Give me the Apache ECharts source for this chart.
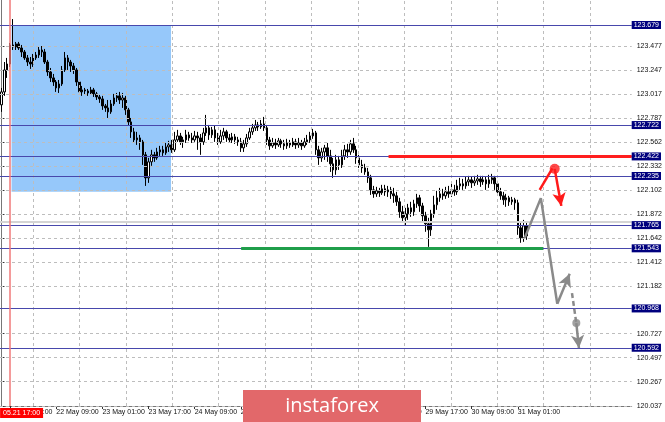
<!DOCTYPE html>
<html><head><meta charset="utf-8">
<script src="https://cdn.jsdelivr.net/npm/echarts@6/dist/echarts.min.js"></script>
<style>html,body{margin:0;padding:0;background:#fff}#c{width:665px;height:422px}</style>
</head><body><div id="c"></div>
<script>
// ---- data (hourly candles: [open, close, low, high]) ----
const ohlc = [
[122.915,123.039,122.848,123.077],[123.039,123.249,123.001,123.325],[123.249,123.306,123.173,123.364],[123.306,123.488,123.278,123.507],
[123.488,123.469,123.440,123.736],[123.469,123.498,123.440,123.517],[123.498,123.459,123.440,123.517],[123.459,123.421,123.373,123.488],
[123.421,123.364,123.345,123.440],[123.364,123.325,123.287,123.392],[123.325,123.306,123.259,123.373],[123.306,123.364,123.278,123.402],
[123.364,123.392,123.345,123.421],[123.392,123.440,123.364,123.469],[123.440,123.421,123.373,123.478],[123.421,123.325,123.306,123.450],
[123.325,123.230,123.192,123.345],[123.230,123.173,123.134,123.268],[123.173,123.134,123.096,123.211],[123.134,123.077,123.039,123.153],
[123.077,123.115,123.029,123.153],[123.115,123.249,123.096,123.287],[123.249,123.364,123.230,123.421],[123.364,123.325,123.249,123.392],
[123.325,123.287,123.230,123.345],[123.287,123.249,123.211,123.316],[123.249,123.134,123.096,123.268],[123.134,123.039,123.010,123.153],
[123.039,123.058,123.001,123.096],[123.058,123.048,123.010,123.077],[123.048,123.029,123.001,123.067],[123.029,123.058,123.010,123.087],
[123.058,123.020,122.991,123.077],[123.020,122.991,122.962,123.039],[122.991,122.972,122.934,123.010],[122.972,122.905,122.867,123.001],
[122.905,122.886,122.848,122.924],[122.886,122.848,122.790,122.962],[122.848,122.924,122.829,122.962],[122.924,122.981,122.905,123.020],
[122.981,123.001,122.943,123.029],[123.001,122.962,122.924,123.039],[122.962,122.981,122.886,123.029],[122.981,122.867,122.819,123.001],
[122.867,122.752,122.714,122.886],[122.752,122.657,122.599,122.790],[122.657,122.580,122.551,122.695],[122.580,122.599,122.532,122.657],
[122.599,122.561,122.485,122.628],[122.561,122.437,122.341,122.580],[122.437,122.217,122.140,122.465],[122.217,122.370,122.169,122.408],
[122.370,122.437,122.332,122.485],[122.437,122.408,122.370,122.465],[122.408,122.465,122.389,122.504],[122.465,122.485,122.427,122.523],
[122.485,122.456,122.427,122.523],[122.456,122.513,122.437,122.551],[122.513,122.532,122.465,122.571],[122.532,122.485,122.456,122.580],
[122.485,122.580,122.465,122.657],[122.580,122.618,122.561,122.676],[122.618,122.561,122.532,122.647],[122.561,122.580,122.504,122.609],
[122.580,122.628,122.551,122.676],[122.628,122.599,122.571,122.657],[122.599,122.580,122.551,122.647],[122.580,122.618,122.561,122.666],
[122.618,122.599,122.485,122.657],[122.599,122.561,122.437,122.637],[122.561,122.647,122.532,122.695],[122.647,122.695,122.618,122.819],
[122.695,122.628,122.580,122.723],[122.628,122.676,122.599,122.704],[122.676,122.599,122.561,122.714],[122.599,122.561,122.532,122.647],
[122.561,122.618,122.542,122.676],[122.618,122.657,122.580,122.695],[122.657,122.599,122.561,122.676],[122.599,122.580,122.551,122.637],
[122.580,122.609,122.551,122.647],[122.609,122.580,122.542,122.637],[122.580,122.561,122.523,122.609],[122.561,122.504,122.465,122.599],
[122.504,122.542,122.465,122.580],[122.542,122.599,122.513,122.637],[122.599,122.657,122.580,122.695],[122.657,122.695,122.628,122.733],
[122.695,122.723,122.666,122.771],[122.723,122.704,122.666,122.752],[122.704,122.733,122.685,122.771],[122.733,122.695,122.666,122.800],
[122.695,122.580,122.532,122.723],[122.580,122.523,122.485,122.609],[122.523,122.551,122.504,122.599],[122.551,122.532,122.494,122.590],
[122.532,122.571,122.513,122.599],[122.571,122.542,122.504,122.590],[122.542,122.523,122.485,122.580],[122.523,122.551,122.494,122.590],
[122.551,122.532,122.504,122.580],[122.532,122.561,122.513,122.599],[122.561,122.532,122.494,122.590],[122.532,122.551,122.504,122.599],
[122.551,122.523,122.485,122.580],[122.523,122.561,122.504,122.599],[122.561,122.580,122.532,122.628],[122.580,122.618,122.551,122.657],
[122.618,122.647,122.590,122.685],[122.647,122.485,122.437,122.666],[122.485,122.408,122.341,122.523],[122.408,122.465,122.370,122.504],
[122.465,122.504,122.389,122.532],[122.504,122.427,122.370,122.551],[122.427,122.351,122.274,122.485],[122.351,122.293,122.217,122.408],
[122.293,122.389,122.246,122.437],[122.389,122.341,122.293,122.427],[122.341,122.427,122.312,122.485],[122.427,122.485,122.389,122.532],
[122.485,122.465,122.408,122.542],[122.465,122.542,122.437,122.580],[122.542,122.485,122.456,122.599],[122.485,122.408,122.351,122.523],
[122.408,122.341,122.312,122.437],[122.341,122.312,122.265,122.389],[122.312,122.274,122.246,122.351],[122.274,122.217,122.169,122.312],
[122.217,122.102,122.054,122.246],[122.102,122.064,122.026,122.140],[122.064,122.093,122.035,122.131],[122.093,122.074,122.035,122.121],
[122.074,122.112,122.054,122.150],[122.112,122.083,122.045,122.150],[122.083,122.102,122.035,122.140],[122.102,122.064,122.016,122.131],
[122.064,122.045,121.978,122.121],[122.045,121.988,121.949,122.083],[121.988,121.892,121.835,122.026],[121.892,121.835,121.787,121.949],
[121.835,121.873,121.758,121.930],[121.873,121.930,121.815,121.968],[121.930,121.892,121.844,121.988],[121.892,121.968,121.854,122.007],
[121.968,122.026,121.930,122.064],[122.026,121.949,121.892,122.054],[121.949,121.854,121.796,121.978],[121.854,121.777,121.701,121.892],
[121.777,121.720,121.557,121.835],[121.720,121.873,121.662,121.911],[121.873,121.959,121.835,122.045],[121.959,122.026,121.911,122.093],
[122.026,122.064,121.988,122.121],[122.064,122.045,122.007,122.112],[122.045,122.083,122.016,122.131],[122.083,122.064,122.026,122.140],
[122.064,122.102,122.035,122.160],[122.102,122.083,122.045,122.150],[122.083,122.140,122.054,122.198],[122.140,122.160,122.102,122.217],
[122.160,122.140,122.102,122.207],[122.140,122.179,122.112,122.226],[122.179,122.198,122.140,122.236],[122.198,122.169,122.121,122.226],
[122.169,122.188,122.140,122.236],[122.188,122.207,122.150,122.246],[122.207,122.179,122.131,122.236],[122.179,122.198,122.150,122.236],
[122.198,122.160,122.102,122.226],[122.160,122.198,122.121,122.246],[122.198,122.217,122.160,122.255],[122.217,122.160,122.102,122.236],
[122.160,122.083,122.045,122.188],[122.083,122.045,122.007,122.121],[122.045,122.007,121.959,122.083],[122.007,122.026,121.940,122.064],
[122.026,121.988,121.949,122.045],[121.988,122.007,121.959,122.035],[122.007,121.978,121.911,122.026],[121.978,121.739,121.672,122.007],
[121.739,121.643,121.596,121.796],[121.643,121.758,121.605,121.815],[121.758,121.662,121.624,121.796]
];
const totalBars = 219;                       // hourly slots across the plot (incl. empty future)
const xTickLabels = ['21 May 17:00','22 May 09:00','23 May 01:00','23 May 17:00','24 May 09:00',
  '27 May 01:00','27 May 17:00','28 May 09:00','29 May 01:00','29 May 17:00','30 May 09:00','31 May 01:00'];
const yTickLabels = [123.477,123.247,123.017,122.787,122.562,122.332,122.102,121.872,121.642,121.412,121.182,120.727,120.497,120.267,120.037];
const levels = [123.679,122.722,122.422,122.235,121.765,121.543,120.968,120.592];
const resistanceLevel = 122.422, resistanceFromBar = 134.2;
const supportLevel = 121.543, supportBars = [83.1, 187.8];
const bidPrice = 121.796;
const zoneBars = [3.5, 58.8], zonePrices = [123.679, 122.084];
const markerBar = 3, markerText = '05.21 17:00';
const greyPath = [[181.4,121.641],[187.0,122.023],[192.7,121.013]];
const greyArrow = [[192.7,121.013],[197.0,121.299]];
const greyDash = [[197.8,121.115],[199.3,120.828]];
const greyDot = [199.3,120.828];
const greyDashArrow = [[199.3,120.828],[200.2,120.589]];
const redPath = [[186.6,122.102],[191.0,122.308]];
const redDot = [191.8,122.303];
const redArrow = [[191.8,122.303],[194.1,121.949]];

// ---- layout helpers ----
const FONT = 'Liberation Sans';
const firstLabelBar = 3, barsPerLabel = 16;
const labelAt = {};
xTickLabels.forEach((t, k) => { labelAt[firstLabelBar + barsPerLabel * k] = t; });
const cats = Array.from({length: totalBars}, (_, i) => String(i));
const vGrid = Array.from({length: 13}, (_, k) => 10.9 + 16.1 * k);
const seg = (a, b) => [{coord: a}, {coord: b}];
const gridStyle = {color: '#bdbdbd', width: 1, type: [3, 3], opacity: 1};

const chart = echarts.init(document.getElementById('c'), null, {renderer: 'canvas'});
chart.setOption({
  animation: false,
  backgroundColor: '#ffffff',
  grid: {left: 0, right: 31, top: 0, bottom: 16, containLabel: false},
  xAxis: [
    {type: 'category', data: cats, boundaryGap: true, position: 'bottom',
     axisLine: {show: true, lineStyle: {color: '#777', width: 1}},
     axisTick: {show: true, alignWithLabel: true, length: 3, interval: (i) => labelAt[i] !== undefined, lineStyle: {color: '#333'}},
     axisLabel: {show: true, interval: (i) => labelAt[i] !== undefined, formatter: (v, i) => labelAt[i] || '',
       align: 'left', margin: 3, fontSize: 7, color: '#111', fontFamily: FONT},
     splitLine: {show: false}},
    {type: 'value', min: -0.5, max: totalBars - 0.5, show: false}
  ],
  yAxis: {type: 'value', position: 'right', min: 120.035, max: 123.918, scale: true,
    axisLine: {show: true, lineStyle: {color: '#777', width: 1}},
    axisTick: {show: true, length: 3, customValues: yTickLabels, lineStyle: {color: '#333'}},
    axisLabel: {show: true, customValues: yTickLabels, formatter: (v) => v.toFixed(3), fontSize: 7, color: '#111', margin: 5, fontFamily: FONT},
    splitLine: {show: false}},
  graphic: [
    {type: 'rect', z: 100, shape: {x: 243, y: 390, width: 178, height: 32}, style: {fill: '#e2686a'}},
    {type: 'text', z: 101, style: {text: 'instaforex', x: 332, y: 406, fill: '#ffffff', fontSize: 20, fontFamily: 'Open Sans', align: 'center', verticalAlign: 'middle'}}
  ],
  series: [
    {type: 'line', xAxisIndex: 1, data: [[0, 122]], symbol: 'none', lineStyle: {width: 0}, z: 1, silent: true,
     markArea: {silent: true, itemStyle: {color: '#96c8fa', opacity: 1}, data: [[{coord: [zoneBars[0], zonePrices[0]]}, {coord: [zoneBars[1], zonePrices[1]]}]]}},
    {type: 'line', xAxisIndex: 1, data: [[0, 122]], symbol: 'none', lineStyle: {width: 0}, z: 2, silent: true,
     markLine: {silent: true, symbol: ['none', 'none'], precision: 3, label: {show: false},
       data: yTickLabels.map(v => ({yAxis: v, lineStyle: gridStyle, label: {show: false}}))
         .concat(vGrid.map(v => ({xAxis: v, lineStyle: gridStyle, label: {show: false}})))}},
    {type: 'candlestick', xAxisIndex: 0, data: ohlc, barWidth: 2, z: 3,
     itemStyle: {color: '#ffffff', color0: '#000000', borderColor: '#000000', borderColor0: '#000000', borderWidth: 1}},
    {type: 'line', xAxisIndex: 1, data: [[0, 122]], symbol: 'none', lineStyle: {width: 0}, z: 4, silent: true,
     markLine: {silent: true, symbol: ['none', 'none'], precision: 3,
       data: [
         {yAxis: bidPrice, lineStyle: {color: '#d4d4d4', width: 2, type: 'solid'}, label: {show: false}},
         ...levels.map(v => ({yAxis: v, lineStyle: {color: '#4848ac', width: 1, type: 'solid'},
           label: {show: true, position: 'end', distance: 0, formatter: v.toFixed(3),
             backgroundColor: '#00007e', color: '#ffffff', fontSize: 7, fontFamily: FONT, padding: [1, 2, 0, 2]}})),
         {xAxis: markerBar, lineStyle: {color: '#f07878', width: 1.5, type: 'solid'},
           label: {show: true, position: 'start', formatter: markerText, backgroundColor: '#ff0000', color: '#ffffff',
             fontSize: 7, fontFamily: FONT, padding: [2, 3, 1, 3], distance: 2, align: 'left', offset: [-10, 0]}},
         [{coord: [resistanceFromBar, resistanceLevel], lineStyle: {color: '#ff1e1e', width: 3, type: 'solid'}, label: {show: false}}, {coord: [totalBars - 0.5, resistanceLevel]}],
         [{coord: [supportBars[0], supportLevel], lineStyle: {color: '#1f9e4a', width: 3, type: 'solid'}, label: {show: false}}, {coord: [supportBars[1], supportLevel]}]
       ]}},
    {type: 'line', xAxisIndex: 1, data: greyPath, symbol: 'none', z: 5, silent: true,
     lineStyle: {color: '#8a8a8a', width: 2.5},
     markLine: {silent: true, symbol: ['none', 'arrow'], symbolSize: [10, 13], label: {show: false},
       lineStyle: {color: '#8a8a8a', width: 2.5, type: 'solid'},
       data: [seg(greyArrow[0], greyArrow[1]), seg(greyDashArrow[0], greyDashArrow[1])]}},
    {type: 'line', xAxisIndex: 1, data: greyDash, symbol: 'none', z: 5, silent: true,
     lineStyle: {color: '#8a8a8a', width: 2.5, type: [5, 3]}},
    {type: 'line', xAxisIndex: 1, data: redPath, symbol: 'none', z: 6, silent: true,
     lineStyle: {color: '#ff1a1a', width: 2.5},
     markLine: {silent: true, symbol: ['none', 'arrow'], symbolSize: [10, 13], label: {show: false},
       lineStyle: {color: '#ff1a1a', width: 2.5, type: 'solid'},
       data: [seg(redArrow[0], redArrow[1])]}},
    {type: 'scatter', xAxisIndex: 1, z: 7, silent: true,
     data: [{value: redDot, symbolSize: 10, itemStyle: {color: '#ff1a1a'}}, {value: greyDot, symbolSize: 8, itemStyle: {color: '#8a8a8a'}}]}
  ]
});
</script>
</body></html>
